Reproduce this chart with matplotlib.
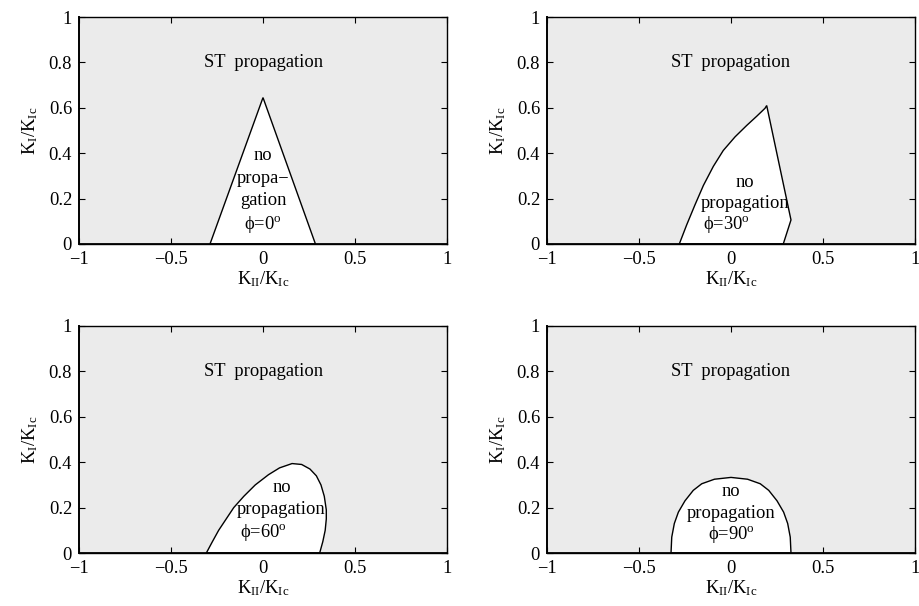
import matplotlib
matplotlib.use('Agg')
import matplotlib.pyplot as plt
from matplotlib.ticker import FixedLocator, FixedFormatter

plt.rcParams['font.family'] = ['Liberation Serif', 'DejaVu Serif']
plt.rcParams['mathtext.fontset'] = 'custom'
plt.rcParams['mathtext.rm'] = 'Liberation Serif'
plt.rcParams['mathtext.it'] = 'Liberation Serif:italic'

# tick positions / labels
xticks = [-1, -0.5, 0, 0.5, 1]
xlabels = ['\u22121', '\u22120.5', '0', '0.5', '1']
yticks = [0, 0.2, 0.4, 0.6, 0.8, 1]
ylabels = ['0', '0.2', '0.4', '0.6', '0.8', '1']

# boundaries of the "no propagation" region
# phi = 0
kii_0 = [-0.288, 0.0, 0.285]
ki_0 = [0.0, 0.645, 0.0]
# phi = 30
kii_30 = [-0.281, -0.241, -0.196, -0.150, -0.096, -0.042, 0.022, 0.085, 0.140, 0.185, 0.194, 0.326, 0.284]
ki_30 = [0.0, 0.084, 0.172, 0.258, 0.342, 0.412, 0.472, 0.522, 0.563, 0.598, 0.610, 0.106, 0.0]
# phi = 60
kii_60 = [-0.308, -0.275, -0.241, -0.200, -0.159, -0.104, -0.042, 0.030, 0.090, 0.158, 0.210, 0.255,
          0.290, 0.315, 0.333, 0.344, 0.344, 0.338, 0.325, 0.308]
ki_60 = [0.0, 0.050, 0.100, 0.150, 0.200, 0.250, 0.300, 0.345, 0.375, 0.394, 0.390, 0.370,
         0.340, 0.300, 0.250, 0.190, 0.150, 0.100, 0.050, 0.0]
# phi = 90
kii_90 = [-0.326, -0.324, -0.322, -0.308, -0.286, -0.250, -0.205, -0.159, -0.090, 0.0,
          0.090, 0.159, 0.205, 0.250, 0.286, 0.308, 0.322, 0.324, 0.326]
ki_90 = [0.0, 0.035, 0.070, 0.130, 0.180, 0.230, 0.276, 0.305, 0.325, 0.333,
         0.325, 0.305, 0.276, 0.230, 0.180, 0.130, 0.070, 0.035, 0.0]

panels = [
    (kii_0, ki_0, [(0, 0.39, 'no'), (0, 0.29, 'propa\u2212'), (0, 0.19, 'gation'), (0, 0.085, '\u03d5=0$^{\\mathrm{o}}$')]),
    (kii_30, ki_30, [(0.076, 0.27, 'no'), (0.076, 0.18, 'propagation'), (-0.023, 0.088, '\u03d5=30$^{\\mathrm{o}}$')]),
    (kii_60, ki_60, [(0.1, 0.29, 'no'), (0.098, 0.19, 'propagation'), (0.0, 0.09, '\u03d5=60$^{\\mathrm{o}}$')]),
    (kii_90, ki_90, [(0.0, 0.27, 'no'), (0.0, 0.175, 'propagation'), (0.0, 0.08, '\u03d5=90$^{\\mathrm{o}}$')]),
]

fig = plt.figure(figsize=(9.2, 6.06), dpi=100)
rects = [
    [79/920, 1-244/606, 368/920, 227/606],
    [547/920, 1-244/606, 368/920, 227/606],
    [79/920, 1-553/606, 368/920, 227/606],
    [547/920, 1-553/606, 368/920, 227/606],
]

fs = 13.3
for rect, (kx, ky, notes) in zip(rects, panels):
    ax = fig.add_axes(rect)
    ax.set_facecolor('#ebebeb')
    ax.fill(kx, ky, facecolor='white', edgecolor='black', lw=1, zorder=2)
    ax.axhline(0, color='black', lw=2, zorder=3)
    ax.set_xlim(-1, 1)
    ax.set_ylim(0, 1)
    ax.xaxis.set_major_locator(FixedLocator(xticks))
    ax.xaxis.set_major_formatter(FixedFormatter(xlabels))
    ax.yaxis.set_major_locator(FixedLocator(yticks))
    ax.yaxis.set_major_formatter(FixedFormatter(ylabels))
    ax.tick_params(direction='in', top=True, right=True, length=4, width=0.8, labelsize=fs)
    ax.tick_params(axis='x', pad=5)
    ax.tick_params(axis='y', pad=5)
    for s in ax.spines.values():
        s.set_linewidth(1.0)
    ax.spines['left'].set_linewidth(1.4)
    ax.set_xlabel('$\\mathrm{K_{II}/K_{Ic}}$', fontsize=fs, labelpad=1)
    ax.set_ylabel('$\\mathrm{K_{I}/K_{Ic}}$', fontsize=fs, labelpad=6)
    ax.text(0, 0.8, 'ST  propagation', ha='center', va='center', fontsize=fs, zorder=4)
    for x, y, t in notes:
        ax.text(x, y, t, ha='center', va='center', fontsize=fs, zorder=4)

fig.savefig('out.png', dpi=100)
